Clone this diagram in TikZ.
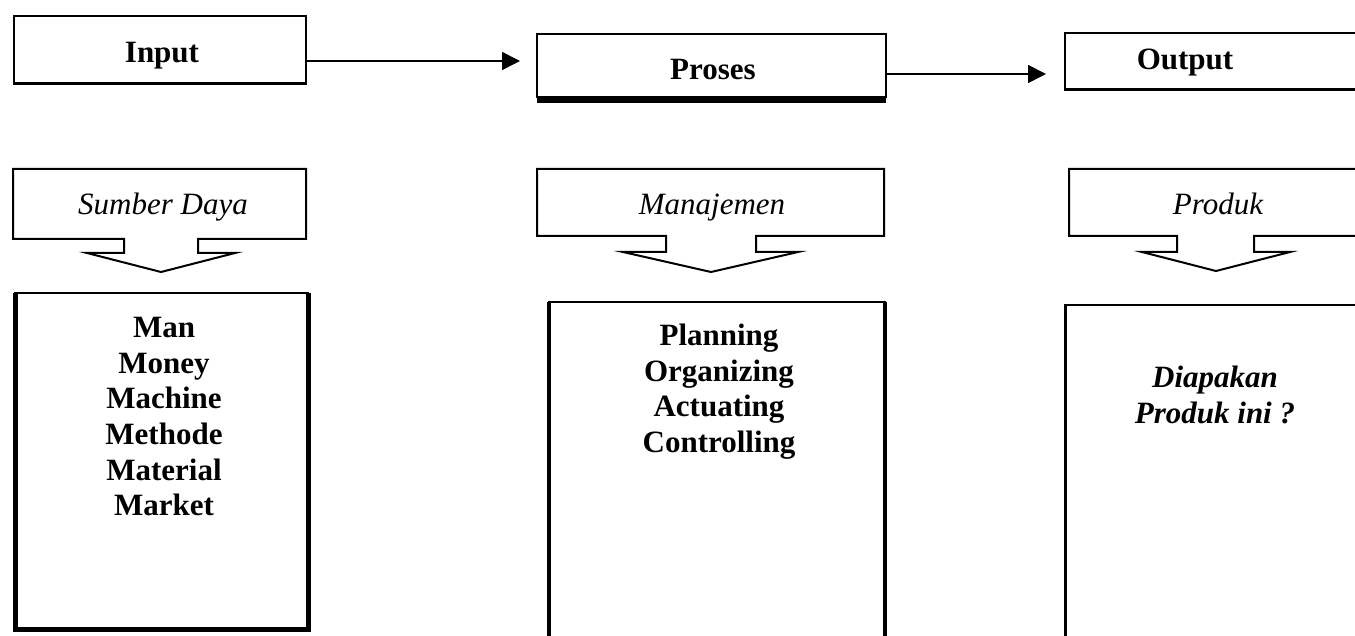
\documentclass[tikz,border=0pt]{standalone}
\usepackage{fontspec}
\setmainfont{Liberation Serif}
\usetikzlibrary{arrows.meta}
\begin{document}
\begin{tikzpicture}[x=0.5pt,y=-0.5pt,
  box/.style={draw=black, line width=1pt, inner sep=0pt, outer sep=0pt, fill=white},
  col/.style={draw=black, line width=0.75pt, inner sep=0pt, outer sep=0pt},
  callout/.style={draw=black, line width=1pt, fill=white},
  arr/.style={line width=0.8pt, -{Triangle[length=9pt,width=9pt]}},
  head/.style={font=\fontsize{15.5}{17.8}\selectfont\bfseries, anchor=base, inner sep=0pt},
  sub/.style={font=\fontsize{15.5}{17.8}\selectfont\itshape, anchor=base, inner sep=0pt},
  listtext/.style={font=\fontsize{15.5}{#1}\selectfont\bfseries, align=center, anchor=north, inner sep=0pt},
  asktext/.style={font=\fontsize{15.5}{18}\selectfont\bfseries\itshape, align=center, anchor=north, inner sep=0pt}
]
\useasboundingbox (0,0) rectangle (1355,636);
\clip (0,0) rectangle (1355,636);

% top row: input -> proses -> output
\node[box, minimum width=146pt, minimum height=34pt] (input) at (160,50) {};
\draw[line width=1.5pt] (input.south west) -- (input.south east);
\node[head] (inputlbl) at (162,63) {Input};

\node[box, minimum width=174.5pt, minimum height=31.5pt] (proses) at (711.5,65.5) {};
\draw[line width=3pt] ([yshift=-1.5pt]proses.south west) -- ([yshift=-1.5pt]proses.south east);
\node[head] (proseslbl) at (713,80) {Proses};

\node[box, minimum width=177.5pt, minimum height=28.5pt] (output) at (1242.5,61.5) {};
\draw[line width=1.5pt] (output.south west) -- (output.south east);
\node[head] (outputlbl) at (1185,70) {Output};

\draw[arr] ([yshift=-5.5pt]input.east) -- ([xshift=-8.5pt,yshift=2.25pt]proses.west);
\draw[arr] ([yshift=-4.25pt]proses.east) -- ([xshift=-9.5pt,yshift=-6.25pt]output.west);

% block arrows
\draw[callout] (13,169) -- (306,169) -- (306,239) -- (198,239) -- (198,253) -- (235,253)
  -- (161,272) -- (87,253) -- (124,253) -- (124,239) -- (13,239) -- cycle;
\node[sub] (sumberlbl) at (163,215) {Sumber Daya};

\draw[callout] (537,169) -- (884,169) -- (884,236) -- (756,236) -- (756,252) -- (798,252)
  -- (711,272) -- (623,252) -- (666,252) -- (666,236) -- (537,236) -- cycle;
\node[sub] (manajlbl) at (712,215) {Manajemen};

\draw[callout] (1069,169) -- (1420,169) -- (1420,236) -- (1254,236) -- (1254,252) -- (1290,252)
  -- (1216,271) -- (1142,252) -- (1177,252) -- (1177,236) -- (1069,236) -- cycle;
\node[sub] (produklbl) at (1218,215) {Produk};

% detail columns
\node[col, minimum width=146.75pt, minimum height=168pt] (resbox) at (161.75,461) {};
\draw[line width=2.5pt] (resbox.north west) -- (resbox.south west) -- (resbox.south east) -- (resbox.north east);
\node[listtext=17.8pt] (reslist) at (164,317) {Man\\Money\\Machine\\Methode\\Material\\Market};

\node[col, minimum width=168pt, minimum height=179pt] (mgmtbox) at (717,481) {};
\draw[line width=2pt] (mgmtbox.north west) -- (mgmtbox.south west);
\draw[line width=2pt] (mgmtbox.north east) -- (mgmtbox.south east);
\node[listtext=17.7pt] (mgmtlist) at (719,324) {Planning\\Organizing\\Actuating\\Controlling};

\node[col, minimum width=177.5pt, minimum height=177.5pt] (prodbox) at (1242.5,482.5) {};
\draw[line width=1.5pt] (prodbox.north west) -- (prodbox.south west);
\node[asktext] (prodask) at (1215,366) {Diapakan\\Produk ini ?};
\end{tikzpicture}
\end{document}
